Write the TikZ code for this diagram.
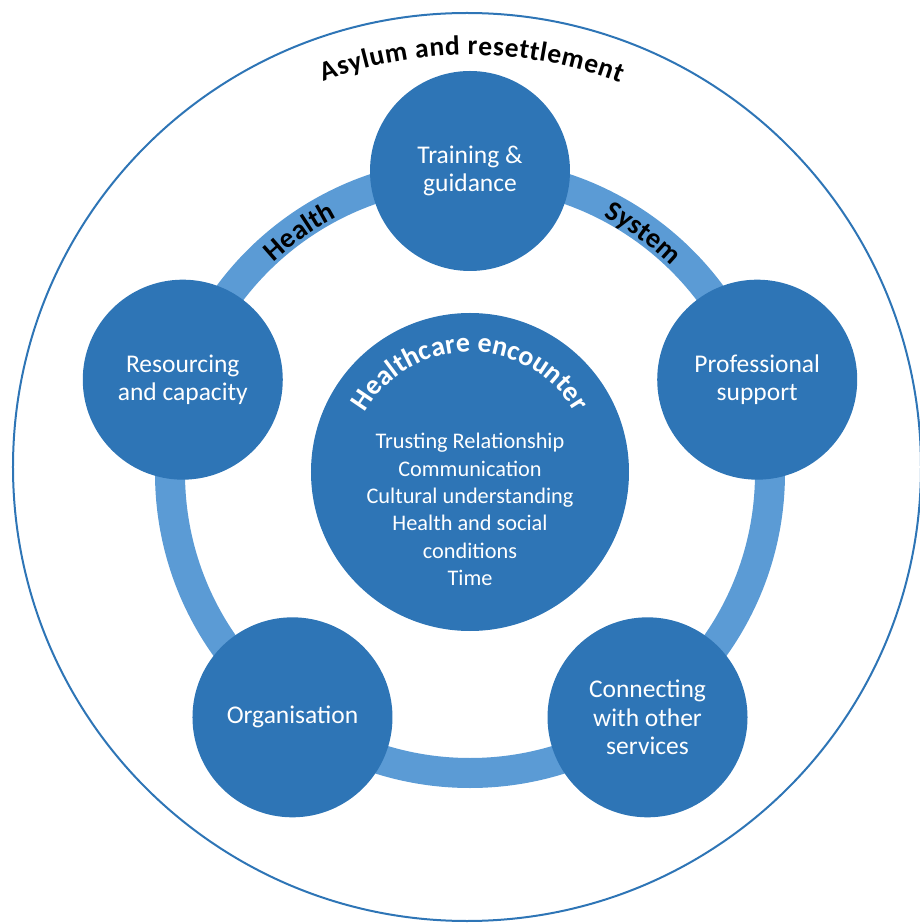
\documentclass[tikz,border=0pt]{standalone}
\usepackage{fontspec}
\setmainfont{Carlito}
\usepackage{tikz}
\usetikzlibrary{decorations.text}
\definecolor{stageblue}{HTML}{2E75B6}
\definecolor{ringblue}{HTML}{5B9BD5}

\begin{document}
\begin{tikzpicture}[x=1pt,y=1pt]
      \newcommand{\arcword}[6]{\path[decorate,decoration={text along path,text align={fit to path},
        text={|\color{#5}\bfseries\fontsize{#4}{#4}\selectfont|#6}}] (#1:#3) arc[start angle=#1,end angle=#2,radius=#3];}
      \tikzstyle{ring}=[draw=ringblue, line width=30pt]
      \tikzstyle{border}=[draw=stageblue, line width=2pt]
      \tikzstyle{stage}=[
        circle,
        fill=stageblue,
        text=white,
        align=center,
        minimum size=200pt,
        inner sep=0pt,
        font=\fontsize{25.5}{28.6}\selectfont,
      ]
      \tikzstyle{hub}=[circle, fill=stageblue, minimum size=318pt, inner sep=0pt]
      \tikzstyle{items}=[text=white, align=center, font=\fontsize{22.3}{27.4}\selectfont]

      \useasboundingbox (-470,-450) rectangle (449,473);
      \coordinate (ctr) at (0,0);
      \coordinate (rim) at (-3,6);

      \draw[border] (rim) circle[radius=454];
      \draw[ring] (ctr) circle[radius=300];

      \node[stage] (train) at (90:302) {Training \&\\guidance};
      \node[stage] (resource) at (162:302) {Resourcing\\and capacity};
      \node[stage] (prof) at (18:302) {Professional\\support};
      \node[stage] (organ) at (234:302) {Organisation};
      \node[stage] (connect) at (306:302) {Connecting\\with other\\services};

      \node[hub] (core) at (0,1) {};
      \node[items] (factors) at (0,-36.5) {Trusting Relationship\\Communication\\Cultural understanding\\Health and social\\conditions\\Time};

      \arcword{150}{30}{121}{28}{white}{Healthcare encounter}
      \arcword{110.5}{69}{418}{27.5}{black}{Asylum and resettlement}
      \arcword{133}{117.5}{288}{28}{black}{Health}
      \arcword{62.5}{45.8}{289}{28}{black}{System}
\end{tikzpicture}
\end{document}
